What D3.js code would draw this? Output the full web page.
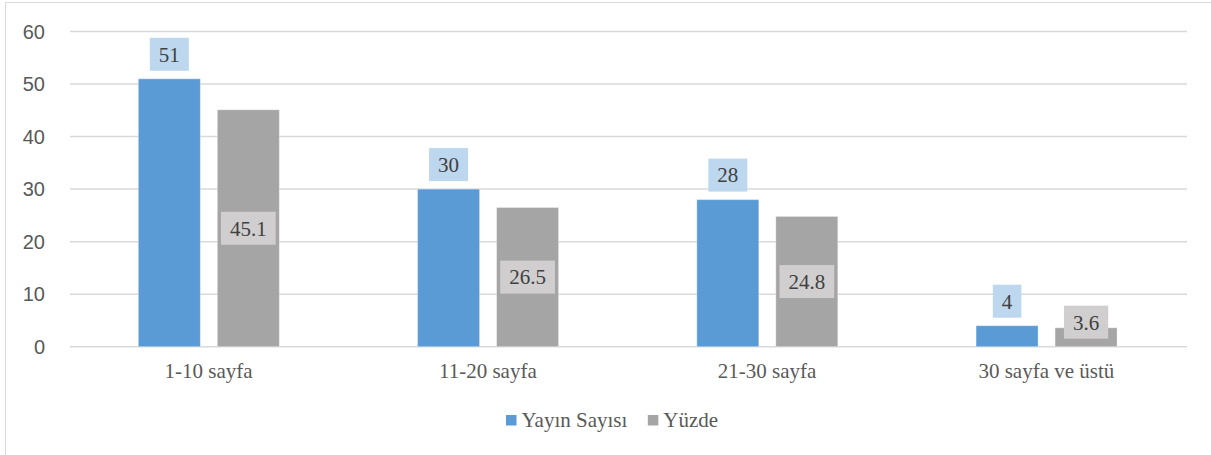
<!DOCTYPE html>
<html>
<head>
<meta charset="utf-8">
<script src="https://cdn.jsdelivr.net/npm/d3@7"></script>
<style>
  html, body { margin: 0; padding: 0; background: #fff; }
  svg { display: block; }
</style>
</head>
<body>
<svg id="chart" width="1211" height="455"></svg>
<script>
// data
const categories = ['1-10 sayfa', '11-20 sayfa', '21-30 sayfa', '30 sayfa ve üstü'];
const seriesNames = ['Yayın Sayısı', 'Yüzde'];
const yayinSayisi = [51, 30, 28, 4];
const yuzde = [45.1, 26.5, 24.8, 3.6];
const yTicks = [0, 10, 20, 30, 40, 50, 60];

const colors = { 'Yayın Sayısı': '#5b9bd5', 'Yüzde': '#a5a5a5' };
const labelBg = { 'Yayın Sayısı': '#bdd7ee', 'Yüzde': '#d0cece' };

const SERIF = 'Liberation Serif';
const SANS = 'Liberation Sans';

const W = 1211, H = 455;
const plot = { left: 70, right: 1187, top: 31.5, bottom: 346.7 };

const svg = d3.select('#chart');

// chart frame (only top/left visible in the crop)
svg.append('path')
  .attr('d', `M5.5,${H} V2.5 H${W}`)
  .attr('fill', 'none')
  .attr('stroke', '#d9d9d9')
  .attr('stroke-width', 1);

const x0 = d3.scaleBand().domain(categories).range([plot.left, plot.right]).padding(0);
const x1 = d3.scaleBand().domain(seriesNames).range([0, x0.bandwidth()])
  .paddingInner(0.215).paddingOuter(0.875);
const y = d3.scaleLinear().domain([0, 60]).range([plot.bottom, plot.top]);

// gridlines
svg.append('g').selectAll('line')
  .data(yTicks)
  .join('line')
  .attr('x1', plot.left).attr('x2', plot.right)
  .attr('y1', d => y(d)).attr('y2', d => y(d))
  .attr('stroke', '#d9d9d9')
  .attr('stroke-width', 1.5);

// y tick labels
svg.append('g').selectAll('text')
  .data(yTicks)
  .join('text')
  .attr('font-family', SANS)
  .attr('x', 45)
  .attr('y', d => y(d))
  .attr('dy', '0.36em')
  .attr('text-anchor', 'end')
  .attr('font-size', 20)
  .attr('fill', '#595959')
  .text(d => d);

const rows = categories.map((c, i) => ({
  cat: c,
  vals: [
    { key: 'Yayın Sayısı', v: yayinSayisi[i] },
    { key: 'Yüzde', v: yuzde[i] }
  ]
}));

const groups = svg.append('g').selectAll('g')
  .data(rows)
  .join('g')
  .attr('transform', d => `translate(${x0(d.cat) - 0.8},0)`);

groups.selectAll('rect')
  .data(d => d.vals)
  .join('rect')
  .attr('x', d => x1(d.key))
  .attr('width', x1.bandwidth())
  .attr('y', d => y(d.v))
  .attr('height', d => y(0) - y(d.v))
  .attr('fill', d => colors[d.key])
  .attr('stroke', '#fff')
  .attr('stroke-opacity', 0.35)
  .attr('stroke-width', 1);

// data labels
const boxH = 33;

groups.each(function (row) {
  const g = d3.select(this);
  row.vals.forEach(d => {
    const cx = x1(d.key) + x1.bandwidth() / 2;
    let cy;
    if (d.key === 'Yayın Sayısı') {
      cy = y(d.v) - 8 - boxH / 2;
    } else {
      cy = Math.min((y(d.v) + y(0)) / 2, y(0) - 8 - boxH / 2);
    }
    const lbl = g.append('g');
    const rect = lbl.append('rect').attr('fill', labelBg[d.key]);
    const t = lbl.append('text')
      .attr('font-family', SERIF)
      .attr('x', cx)
      .attr('y', cy)
      .attr('dy', '0.35em')
      .attr('text-anchor', 'middle')
      .attr('font-size', 21)
      .attr('fill', '#404040')
      .text(d.v);
    const tw = t.node().getComputedTextLength();
    const bw = tw + 18;
    rect.attr('x', cx - bw / 2).attr('y', cy - boxH / 2)
      .attr('width', bw).attr('height', boxH);
  });
});

// category labels
svg.append('g').selectAll('text')
  .data(categories)
  .join('text')
  .attr('font-family', SERIF)
  .attr('x', d => x0(d) + x0.bandwidth() / 2 - 1)
  .attr('y', 378)
  .attr('text-anchor', 'middle')
  .attr('font-size', 21)
  .attr('fill', '#595959')
  .text(d => d);

// legend
const legend = svg.append('g');
let lx = 506;
seriesNames.forEach(name => {
  legend.append('rect')
    .attr('x', lx).attr('y', 415)
    .attr('width', 10.5).attr('height', 10.5)
    .attr('fill', colors[name]);
  const t = legend.append('text')
    .attr('font-family', SERIF)
    .attr('x', lx + 15.5)
    .attr('y', 427)
    .attr('font-size', 21)
    .attr('fill', '#595959')
    .text(name);
  lx += 15.5 + t.node().getComputedTextLength() + 20.5;
});
</script>
</body>
</html>
